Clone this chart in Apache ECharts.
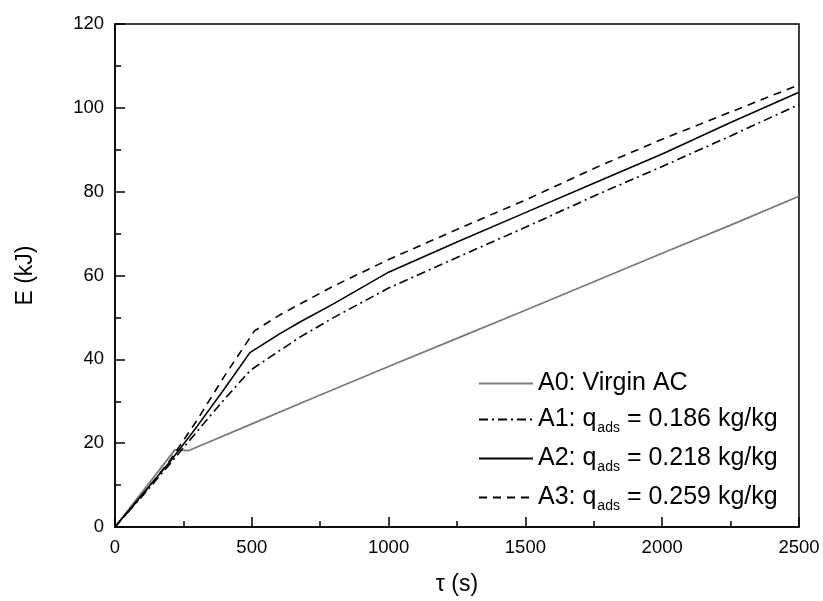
<!DOCTYPE html>
<html>
<head>
<meta charset="utf-8">
<title>E vs tau</title>
<script src="https://cdn.jsdelivr.net/npm/echarts@6/dist/echarts.min.js"></script>
<style>
  html, body { margin: 0; padding: 0; background: #fff; }
  #chart { width: 823px; height: 601px; }
</style>
</head>
<body>
<div id="chart"></div>
<script>
  // values (time in s, energy in kJ)
  var tA0 = [0, 100, 219, 268, 500, 750, 1000, 1250, 1500, 1750, 2000, 2250, 2500];
  var eA0 = [0, 8.4, 18.4, 18.2, 24.6, 31.5, 38.3, 45.0, 51.7, 58.5, 65.3, 72.0, 78.9];

  var tA1 = [0, 100, 200, 300, 400, 495, 600, 676, 800, 1000, 1250, 1500, 1773, 2000, 2250, 2500];
  var eA1 = [0, 7.4, 15.0, 22.8, 30.5, 37.4, 42.0, 45.3, 50.0, 57.0, 64.3, 71.5, 79.6, 86.0, 93.3, 100.8];

  var tA2 = [0, 100, 200, 300, 400, 493, 600, 676, 800, 1000, 1250, 1500, 1750, 2000, 2250, 2500];
  var eA2 = [0, 7.8, 15.5, 24.0, 33.0, 41.6, 46.0, 48.9, 53.3, 60.8, 68.0, 75.0, 82.0, 89.0, 96.5, 103.7];

  var tA3 = [0, 100, 200, 300, 400, 510, 600, 676, 800, 1000, 1250, 1500, 1773, 2000, 2250, 2500];
  var eA3 = [0, 7.6, 15.8, 25.5, 36.0, 46.8, 50.5, 53.2, 57.5, 63.8, 71.0, 78.0, 86.2, 92.5, 99.0, 105.5];

  var seriesNames = ['A0', 'A1', 'A2', 'A3'];
  var seriesLabels = [
    '{n|A0: Virgin AC}',
    '{n|A1: q}{sub|ads}{n| = 0.186 kg/kg}',
    '{n|A2: q}{sub|ads}{n| = 0.218 kg/kg}',
    '{n|A3: q}{sub|ads}{n| = 0.259 kg/kg}'
  ];

  function pairs (xs, ys) {
    return xs.map(function (x, i) { return [x, ys[i]]; });
  }

  var font = '"Liberation Sans", Arial, sans-serif';
  var myChart = echarts.init(document.getElementById('chart'), null, {renderer: 'canvas'});

  var axisCommon = {
    axisLine: {show: true, onZero: false, lineStyle: {color: '#000', width: 1.5}},
    axisTick: {show: true, inside: true, length: 10, lineStyle: {color: '#000', width: 1.5}},
    minorTick: {show: true, splitNumber: 2, length: 6, lineStyle: {color: '#000', width: 1.5}},
    splitLine: {show: false},
    axisLabel: {
      color: '#000',
      fontSize: 18.5,
      fontFamily: font,
      margin: 11,
      formatter: function (v) { return String(v); }
    },
    nameTextStyle: {color: '#000', fontSize: 23, fontFamily: font}
  };

  myChart.setOption({
    animation: false,
    backgroundColor: '#fff',
    grid: {
      left: 115,
      right: 24,
      top: 24,
      bottom: 72,
      show: true,
      borderColor: '#000',
      borderWidth: 1.5
    },
    xAxis: Object.assign({}, axisCommon, {
      type: 'value',
      min: 0,
      max: 2500,
      interval: 500,
      name: 'τ (s)',
      nameLocation: 'middle',
      nameGap: 46
    }),
    yAxis: Object.assign({}, axisCommon, {
      type: 'value',
      min: 0,
      max: 120,
      interval: 20,
      name: 'E (kJ)',
      nameLocation: 'middle',
      nameGap: 78,
      nameRotate: 90
    }),
    legend: {
      orient: 'vertical',
      left: 473,
      top: 366,
      itemWidth: 54,
      itemHeight: 14,
      itemGap: 8,
      data: seriesNames,
      itemStyle: {opacity: 0},
      formatter: function (name) {
        return seriesLabels[seriesNames.indexOf(name)];
      },
      textStyle: {
        color: '#000',
        fontFamily: font,
        rich: {
          n: {fontSize: 25, fontFamily: font, color: '#000', lineHeight: 29},
          sub: {fontSize: 14, fontFamily: font, color: '#000', lineHeight: 29, padding: [17, 0, 0, 1]}
        }
      }
    },
    series: [
      {
        name: 'A0',
        type: 'line',
        data: pairs(tA0, eA0),
        symbol: 'none',
        lineStyle: {color: '#7a7a7a', width: 1.8, type: 'solid'},
        itemStyle: {color: '#7a7a7a'},
        z: 2
      },
      {
        name: 'A1',
        type: 'line',
        data: pairs(tA1, eA1),
        symbol: 'none',
        lineStyle: {color: '#000', width: 1.6, type: [9, 4, 2, 4]},
        itemStyle: {color: '#000'},
        z: 3
      },
      {
        name: 'A2',
        type: 'line',
        data: pairs(tA2, eA2),
        symbol: 'none',
        lineStyle: {color: '#000', width: 1.6, type: 'solid'},
        itemStyle: {color: '#000'},
        z: 3
      },
      {
        name: 'A3',
        type: 'line',
        data: pairs(tA3, eA3),
        symbol: 'none',
        lineStyle: {color: '#000', width: 1.6, type: [8, 6]},
        itemStyle: {color: '#000'},
        z: 3
      }
    ]
  });
</script>
</body>
</html>
